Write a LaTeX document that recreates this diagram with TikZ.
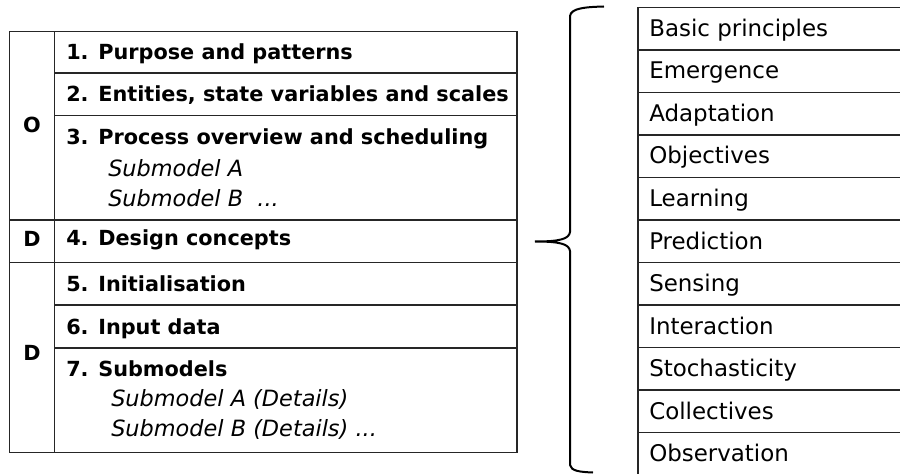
\documentclass[tikz,border=0pt]{standalone}
\usepackage{fontspec}
\setmainfont{DejaVu Sans}
\begin{document}
\begin{tikzpicture}[x=0.75pt,y=-0.75pt,
  grid/.style={draw=black!85,line width=0.9pt},
  bracepath/.style={draw=black,line width=1.5pt},
  sect/.style={anchor=base west,inner sep=0pt,font=\bfseries\fontsize{15.6}{18}\selectfont},
  sub/.style={anchor=base west,inner sep=0pt,font=\itshape\fontsize{16.8}{19}\selectfont},
  tag/.style={anchor=base,inner sep=0pt,font=\bfseries\fontsize{15.6}{18}\selectfont},
  item/.style={anchor=base west,inner sep=0pt,font=\fontsize{17.2}{20}\selectfont}]
\clip (0,0) rectangle (900,474);

% ODD protocol table
\draw[grid] (9.5,31.5) rectangle (517,452.5);
\draw[grid] (54.5,31.5) -- (54.5,452.5);
\foreach \yy in {73,115.5,305,348} \draw[grid] (54.5,\yy) -- (517,\yy);
\foreach \yy in {220,262.5} \draw[grid] (9.5,\yy) -- (517,\yy);

\node[tag] (tO) at (32,133) {O};
\node[tag] (tD1) at (32,247) {D};
\node[tag] (tD2) at (32,360) {D};

\node[sect] (s1) at (66,60) {1. Purpose and patterns};
\node[sect] (s2) at (66,102) {2. Entities, state variables and scales};
\node[sect] (s3) at (66,145) {3. Process overview and scheduling};
\node[sub] (s3a) at (108,176.5) {Submodel A};
\node[sub] (s3b) at (108,206.5) {Submodel B \ ...};
\node[sect] (s4) at (66,245) {4. Design concepts};
\node[sect] (s5) at (66,291.5) {5. Initialisation};
\node[sect] (s6) at (66,334) {6. Input data};
\node[sect] (s7) at (66,376.5) {7. Submodels};
\node[sub] (s7a) at (111,406.5) {Submodel A (Details)};
\node[sub] (s7b) at (111,436.5) {Submodel B (Details) ...};

% design concepts list
\draw[grid] (920,7.5) -- (638,7.5) -- (638,480);
\foreach \k in {1,...,10} \draw[grid] (638,{7.5+42.5*\k}) -- (920,{7.5+42.5*\k});
\foreach \t [count=\i from 0] in {Basic principles,Emergence,Adaptation,Objectives,Learning,Prediction,Sensing,Interaction,Stochasticity,Collectives,Observation}
  \node[item] (dc\i) at (649,{36.5+42.5*\i}) {\t};

% curly brace
\coordinate (tip) at (535,241.5);
\draw[bracepath] (604,6.5) .. controls (586,7) and (571,8) .. (570,16)
  -- (570,232) .. controls (569,239) and (560,241.5) .. (tip)
  .. controls (560,241.5) and (569,244) .. (570,251)
  -- (570,465) .. controls (571,471) and (580,472) .. (593,472.5);
\end{tikzpicture}
\end{document}
